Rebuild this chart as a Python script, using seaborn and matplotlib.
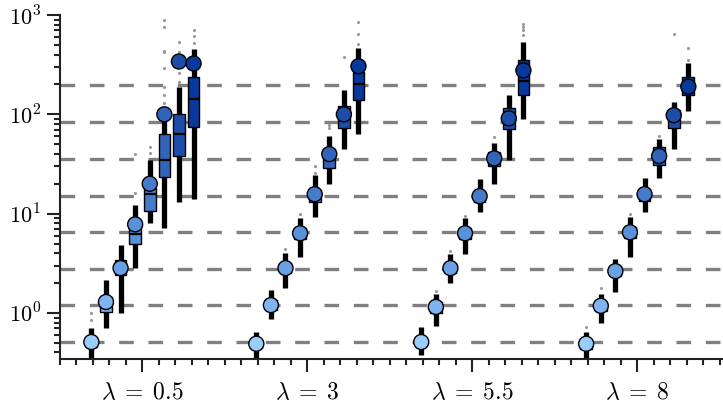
import numpy as np
import pandas as pd
import matplotlib
matplotlib.use("Agg")
import matplotlib.pyplot as plt
import seaborn as sns
from matplotlib.ticker import MultipleLocator, LogLocator, FuncFormatter, NullFormatter

# ---------------- data ----------------
lambdas = [r"$\lambda\;=\;0.5$", r"$\lambda\;=\;3$", r"$\lambda\;=\;5.5$", r"$\lambda\;=\;8$"]
levels = ["1", "2", "3", "4", "5", "6", "7", "8"]
palette = ["#99ccff", "#7fb4f0", "#6aa1e4", "#5890da", "#467acb", "#3163b9", "#1c4ea9", "#06399b"]

ref_levels = [0.51, 1.19, 2.79, 6.53, 15.2, 35.7, 83.5, 198]

whis_lo = [
    [0.30, 0.71, 1.00, 2.83, 8.0, 7.1, 13, 14],
    [0.30, 0.87, 1.78, 3.65, 9.2, 20, 45, 64],
    [0.38, 0.74, 2.00, 3.90, 10.3, 20, 34.5, 89],
    [0.32, 0.79, 1.62, 3.65, 10.3, 22.7, 44.5, 107],
]
q1 = [
    [0.45, 1.02, 2.40, 4.9, 10.6, 23.2, 38, 75],
    [0.44, 1.08, 2.50, 5.6, 13.0, 29, 72, 138],
    [0.46, 1.00, 2.50, 5.6, 13.2, 30, 71, 158],
    [0.43, 1.05, 2.35, 5.7, 13.5, 30.6, 72, 155],
]
median = [
    [0.50, 1.20, 2.80, 6.2, 15.7, 34.5, 63, 144],
    [0.48, 1.20, 2.80, 6.3, 15.5, 38, 95, 200],
    [0.50, 1.13, 2.80, 6.3, 15.0, 35, 88, 215],
    [0.48, 1.17, 2.62, 6.4, 15.5, 37, 95, 195],
]
q3 = [
    [0.56, 1.45, 3.40, 8.5, 18.0, 63, 100, 235],
    [0.54, 1.35, 3.20, 7.2, 17.5, 45, 120, 265],
    [0.55, 1.28, 3.15, 7.1, 17.0, 42, 115, 350],
    [0.54, 1.30, 2.95, 7.3, 17.8, 46.5, 110, 235],
]
whis_hi = [
    [0.71, 2.15, 4.80, 12.2, 34.5, 95, 190, 450],
    [0.64, 1.70, 4.00, 9.0, 24.4, 61, 174, 470],
    [0.72, 1.55, 3.90, 9.0, 22.2, 52, 155, 530],
    [0.64, 1.55, 3.50, 9.2, 23.0, 56, 132, 330],
]
means = [
    [0.51, 1.29, 2.83, 7.8, 20.0, 100, 340, 325],
    [0.49, 1.20, 2.83, 6.35, 15.7, 39.8, 100, 305],
    [0.51, 1.15, 2.83, 6.35, 15.0, 36, 91, 277],
    [0.49, 1.18, 2.64, 6.5, 15.7, 38, 98, 190],
]
fliers = [
    [[0.85, 1.0], [], [], [16, 40], [41, 47],
     [130, 155, 187, 290, 420, 430, 750, 900], [210, 260, 420, 530], [525, 610, 700]],
    [[], [], [4.4], [10], [25.6, 30], [72, 78], [380], [510, 650, 860]],
    [[], [1.66], [4.2], [9.4], [], [59], [], [630, 700, 750, 820]],
    [[0.72], [1.78], [], [10], [], [61], [640], [350, 470]],
]

# ---------------- tables ----------------
GROUP_WIDTH = 0.708
n_lev = len(levels)
box_rows, mean_rows, flier_rows = [], [], []
for gi, lam in enumerate(lambdas):
    for k, lev in enumerate(levels):
        for stat in (whis_lo, q1, median, q3, whis_hi):
            box_rows.append({"lam": lam, "n": lev, "value": stat[gi][k]})
        pos = gi + (k - (n_lev - 1) / 2) * GROUP_WIDTH / n_lev
        mean_rows.append({"pos": pos, "n": lev, "value": means[gi][k]})
        for f in fliers[gi][k]:
            flier_rows.append({"pos": pos, "value": f})
box_df = pd.DataFrame(box_rows)
mean_df = pd.DataFrame(mean_rows)
flier_df = pd.DataFrame(flier_rows)

# ---------------- plot ----------------
sns.set_theme(style="ticks")
plt.rcParams["mathtext.fontset"] = "cm"
plt.rcParams["font.family"] = ["DejaVu Sans"]

fig = plt.figure(figsize=(7.23, 4.03), dpi=100)
ax = fig.add_axes([60 / 723, 44 / 403, 663 / 723, 344 / 403])
ax.set_yscale("log")

for v in ref_levels:
    ax.axhline(v, color="#808080", lw=2.4, dashes=(4.4, 4.4), zorder=0)

sns.boxplot(
    data=box_df, x="lam", y="value", hue="n", order=lambdas, hue_order=levels,
    palette=palette, saturation=1, width=GROUP_WIDTH, gap=0.2, dodge=True,
    whis=(0, 100), showfliers=False, linecolor="black", linewidth=1.0,
    whiskerprops=dict(linewidth=3.8, solid_capstyle="butt"),
    capprops=dict(visible=False),
    medianprops=dict(linewidth=1.6, color="black"),
    legend=False, ax=ax,
)

sns.scatterplot(data=flier_df, x="pos", y="value", color="#999999", s=5,
                linewidth=0, zorder=3, legend=False, ax=ax)
sns.scatterplot(data=mean_df, x="pos", y="value", hue="n", hue_order=levels,
                palette=palette, s=117, edgecolor="black", linewidth=1.0,
                zorder=5, legend=False, ax=ax)

ax.set_xlim(-0.5, 3.52)
ax.set_ylim(0.344, 1000)
ax.set_xlabel("")
ax.set_ylabel("")
ax.set_xticks(range(len(lambdas)))
ax.set_xticklabels(lambdas)
ax.xaxis.set_minor_locator(MultipleLocator(0.1))
ax.yaxis.set_major_locator(LogLocator(base=10))
ax.yaxis.set_major_formatter(FuncFormatter(lambda v, p: r"$10^{%d}$" % int(round(np.log10(v)))))
ax.yaxis.set_minor_locator(LogLocator(base=10, subs=np.arange(2, 10)))
ax.yaxis.set_minor_formatter(NullFormatter())

ax.tick_params(axis="both", which="major", direction="out", length=9.5, width=1.5,
               color="#222222", labelsize=16, labelcolor="black", pad=4)
ax.tick_params(axis="x", which="major", labelsize=17, pad=6)
ax.tick_params(axis="both", which="minor", direction="out", length=4.5, width=1.5,
               color="#222222")
for s in ("top", "right"):
    ax.spines[s].set_visible(False)
for s in ("left", "bottom"):
    ax.spines[s].set_linewidth(1.5)
    ax.spines[s].set_color("#222222")

fig.savefig("out.png", dpi=100)
